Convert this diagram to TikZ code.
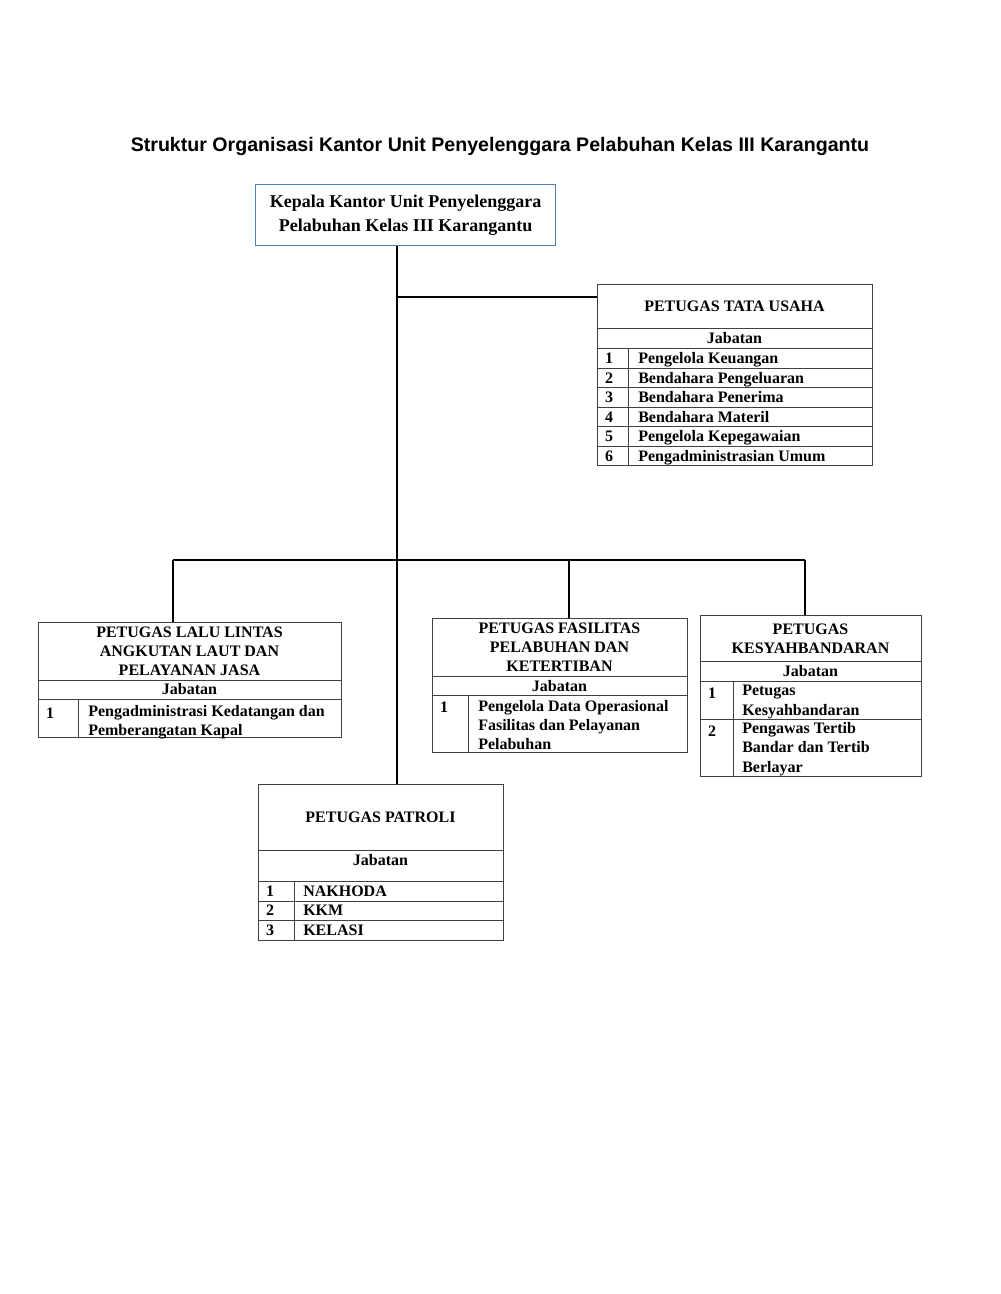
\documentclass[tikz,border=0pt]{standalone}
\usepackage{fontspec}
\setmainfont{Liberation Serif}
\newfontfamily\titlefont{Liberation Sans}
\definecolor{boxblue}{HTML}{4F81BD}
\definecolor{tblgray}{HTML}{404040}
\begin{document}
\begin{tikzpicture}[x=0.75pt,y=-0.75pt,
  tbl/.style={draw=tblgray, line width=0.75pt, inner sep=0pt, anchor=north west},
  tline/.style={draw=tblgray, line width=0.75pt},
  txt/.style={inner sep=0pt, font=\bfseries\fontsize{12}{14.4}\selectfont},
  stxt/.style={txt, text height=11pt, text depth=2.2pt},
  ctxt/.style={txt, align=center},
  ltxt/.style={txt, align=left, anchor=west},
  sctxt/.style={stxt},
  sltxt/.style={stxt, anchor=west},
  conn/.style={draw=black, line width=1.2pt}]
\useasboundingbox (0,0) rectangle (1000,1294);
% title
\node[inner sep=0pt, font=\titlefont\bfseries\fontsize{14.7}{17}\selectfont] (title) at (500,146) {Struktur Organisasi Kantor Unit Penyelenggara Pelabuhan Kelas III Karangantu};
% head box
\node[draw=boxblue, line width=0.9pt, inner sep=0pt, anchor=north west, minimum width=225pt, minimum height=45.75pt] (kepala) at (255,184) {};
\node[inner sep=0pt, align=center, font=\bfseries\fontsize{13.5}{18}\selectfont] (kepalatxt) at (kepala.center) {Kepala Kantor Unit Penyelenggara\\Pelabuhan Kelas III Karangantu};
% Tata Usaha
\node[tbl, minimum width=206.25pt, minimum height=135.75pt] (tu) at (597,284) {};
\draw[tline] (597,328) -- (872,328);
\foreach \y in {348,368,387,407,426,446} \draw[tline] (597,\y) -- (872,\y);
\draw[tline] (628,348) -- (628,465);
\node[sctxt] (tuh) at (734.5,306) {PETUGAS TATA USAHA};
\node[sctxt] (tuj) at (734.5,338) {Jabatan};
\foreach \n/\y/\t in {1/358/Pengelola Keuangan,2/378/Bendahara Pengeluaran,3/397/Bendahara Penerima,4/417/Bendahara Materil,5/436/Pengelola Kepegawaian,6/456/Pengadministrasian Umum}{
  \node[sctxt] (tun\n) at (609,\y) {\n};
  \node[sltxt] (tut\n) at (638,\y) {\t};
}
% Lalu Lintas
\node[tbl, minimum width=227.25pt, minimum height=86.25pt] (ll) at (38,622) {};
\draw[tline] (38,680) -- (341,680);
\draw[tline] (38,699) -- (341,699);
\draw[tline] (78,699) -- (78,737);
\node[ctxt] (llh) at (189.5,651) {PETUGAS LALU LINTAS\\ANGKUTAN LAUT DAN\\PELAYANAN JASA};
\node[sctxt] (llj) at (189.5,689) {Jabatan};
\node[sctxt] (lln1) at (50,712.5) {1};
\node[ltxt] (llt1) at (88,722) {Pengadministrasi Kedatangan dan\\Pemberangatan Kapal};
% Fasilitas
\node[tbl, minimum width=191.25pt, minimum height=100.5pt] (fas) at (432,618) {};
\draw[tline] (432,676) -- (687,676);
\draw[tline] (432,695) -- (687,695);
\draw[tline] (468,695) -- (468,752);
\node[ctxt] (fash) at (559.5,647.5) {PETUGAS FASILITAS\\PELABUHAN DAN\\KETERTIBAN};
\node[sctxt] (fasj) at (559.5,686) {Jabatan};
\node[sctxt] (fasn1) at (444,707) {1};
\node[ltxt] (fast1) at (478,725) {Pengelola Data Operasional\\Fasilitas dan Pelayanan\\Pelabuhan};
% Kesyahbandaran
\node[tbl, minimum width=165.75pt, minimum height=120.75pt] (kes) at (700,615) {};
\draw[tline] (700,661) -- (921,661);
\draw[tline] (700,681) -- (921,681);
\draw[tline] (700,719) -- (921,719);
\draw[tline] (733,681) -- (733,776);
\node[ctxt] (kesh) at (810.5,638.5) {PETUGAS\\KESYAHBANDARAN};
\node[sctxt] (kesj) at (810.5,671) {Jabatan};
\node[sctxt] (kesn1) at (712,692.5) {1};
\node[ltxt] (kest1) at (742,702) {Petugas\\Kesyahbandaran};
\node[sctxt] (kesn2) at (712,730.5) {2};
\node[ltxt] (kest2) at (742,749) {Pengawas Tertib\\Bandar dan Tertib\\Berlayar};
% Patroli
\node[tbl, minimum width=183.75pt, minimum height=117pt] (pat) at (258,784) {};
\draw[tline] (258,850) -- (503,850);
\foreach \y in {881,901,920} \draw[tline] (258,\y) -- (503,\y);
\draw[tline] (294,881) -- (294,940);
\node[sctxt] (path) at (380.5,817) {PETUGAS PATROLI};
\node[sctxt] (patj) at (380.5,860) {Jabatan};
\foreach \n/\y/\t in {1/891/NAKHODA,2/910/KKM,3/930/KELASI}{
  \node[sctxt] (patn\n) at (270,\y) {\n};
  \node[sltxt] (patt\n) at (303,\y) {\t};
}
% connectors
\coordinate (tx) at (397,0);
\coordinate (b1) at (397,297);
\coordinate (d1) at (173,560);
\coordinate (d2) at (569,560);
\coordinate (d3) at (805,560);
\draw[conn] (kepala.south -| tx) -- (pat.north -| tx);
\draw[conn] (b1) -- (b1 -| tu.west);
\draw[conn] (d1) -- (d3);
\draw[conn] (d1) -- (d1 |- ll.north);
\draw[conn] (d2) -- (d2 |- fas.north);
\draw[conn] (d3) -- (d3 |- kes.north);
\end{tikzpicture}
\end{document}
